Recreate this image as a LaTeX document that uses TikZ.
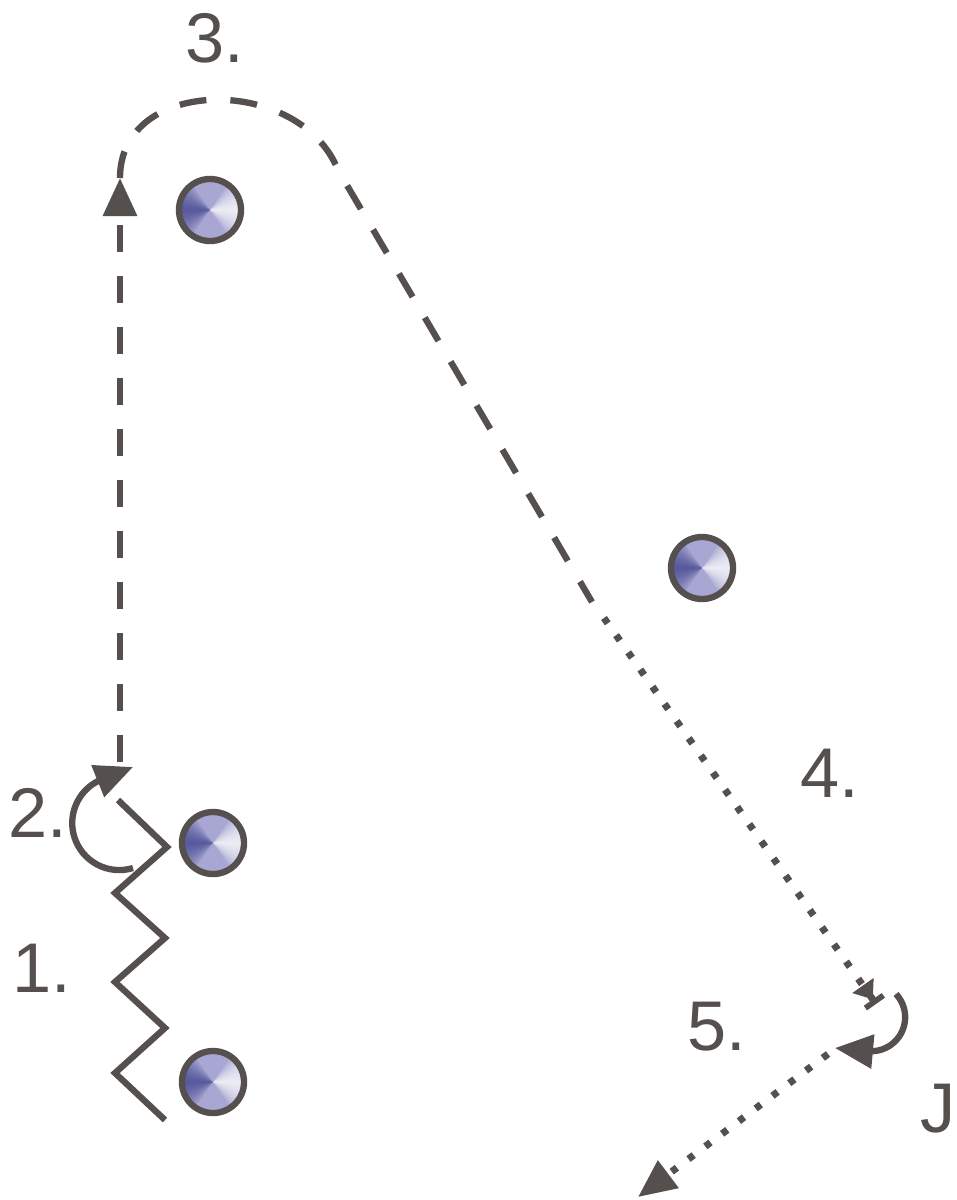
\documentclass[tikz,border=0pt]{standalone}
\usepackage{fontspec}
\setmainfont{Liberation Sans}
\usepackage{tikz}
\usetikzlibrary{arrows.meta,calc}
\definecolor{ink}{RGB}{85,80,78}
\definecolor{lav}{RGB}{168,166,210}
\definecolor{dkblue}{RGB}{60,64,140}
\tikzset{
  player/.style ={circle,draw=ink,line width=1.8pt,minimum size=6.2mm,inner sep=0pt,
    path picture={
      \fill[lav] (path picture bounding box.south west) rectangle (path picture bounding box.north east);
      \foreach \a in {6,12,...,54}{
        \fill[dkblue,opacity=0.13] (path picture bounding box.center)--++(180+\a:5mm)--++(90:{10mm*sin(\a)})--cycle;
        \fill[white,opacity=0.16] (path picture bounding box.center)--++(-\a:5mm)--++(90:{10mm*sin(\a)})--cycle;}}},
  lbl/.style    ={text=ink,font=\fontsize{20}{22}\selectfont,inner sep=0pt},
  skate/.style  ={draw=ink,line width=1.8pt},
  pass/.style   ={draw=ink,line width=1.8pt,dash pattern=on 0.27cm off 0.24cm},
  shot/.style   ={draw=ink,line width=2pt,dash pattern=on 0.065cm off 0.145cm},
  turn/.style   ={draw=ink,line width=1.8pt},
  bigtip/.tip   ={Triangle[length=3.8mm,width=3.3mm]},
}
\begin{document}
\begin{tikzpicture}[x=0.01cm,y=-0.01cm]
  \useasboundingbox (0,0) rectangle (956,1200);
  % players
  \node[player](p1) at (210,210){};
  \node[player](p2) at (702,568){};
  \node[player](p3) at (213,843){};
  \node[player](p4) at (213,1082){};
  % labels
  \node[lbl](l1) at (42,968){1.};
  \node[lbl](l2) at (38,813){2.};
  \node[lbl](l3) at (215,38){3.};
  \node[lbl](l4) at (830,773){4.};
  \node[lbl](l5) at (717,1027){5.};
  \node[lbl](lj) at (938,1109){J};
  % path points
  \coordinate (z0) at (165,1120); \coordinate (z1) at (115,1073);
  \coordinate (z2) at (165,1028); \coordinate (z3) at (115,982);
  \coordinate (z4) at (165,938);  \coordinate (z5) at (115,893);
  \coordinate (z6) at (167,847);  \coordinate (z7) at (118,800);
  \coordinate (r0) at (133,868);  \coordinate (rt) at (133,767);
  \coordinate (u0) at (120,762);  \coordinate (ut) at (120,178);
  \coordinate (c1) at (120,75);   \coordinate (c2) at (300,75);
  \coordinate (ck) at (338,170);  \coordinate (sw) at (592,602);
  \coordinate (d0) at (604,618);  \coordinate (dt) at (876,1004);
  \coordinate (a0) at (896,994);  \coordinate (at) at (835,1048);
  \coordinate (f0) at (828,1054); \coordinate (ft) at (638,1197);
  % 1. skating
  \draw[skate,line join=miter](z0)--(z1)--(z2)--(z3)--(z4)--(z5)--(z6)--(z7);
  % 2. turn
  \draw[turn,-bigtip](r0) arc[start angle=-73,end angle=-243,radius=0.47cm]--(rt);
  % 3. up and over
  \draw[pass,-bigtip](u0)--(ut);
  \draw[pass](ut) .. controls (c1) and (c2) .. (ck)--(sw);
  % 4. to the net
  \draw[shot,-{Triangle[length=1.7mm,width=2.5mm] Bar[width=2.2mm,line width=1.6pt]}](d0)--(dt);
  % 5. turn and shoot
  \draw[turn,-bigtip](a0) arc[start angle=43,end angle=-95,radius=0.34cm]--(at);
  \draw[shot,-bigtip](f0)--(ft);
\end{tikzpicture}
\end{document}
